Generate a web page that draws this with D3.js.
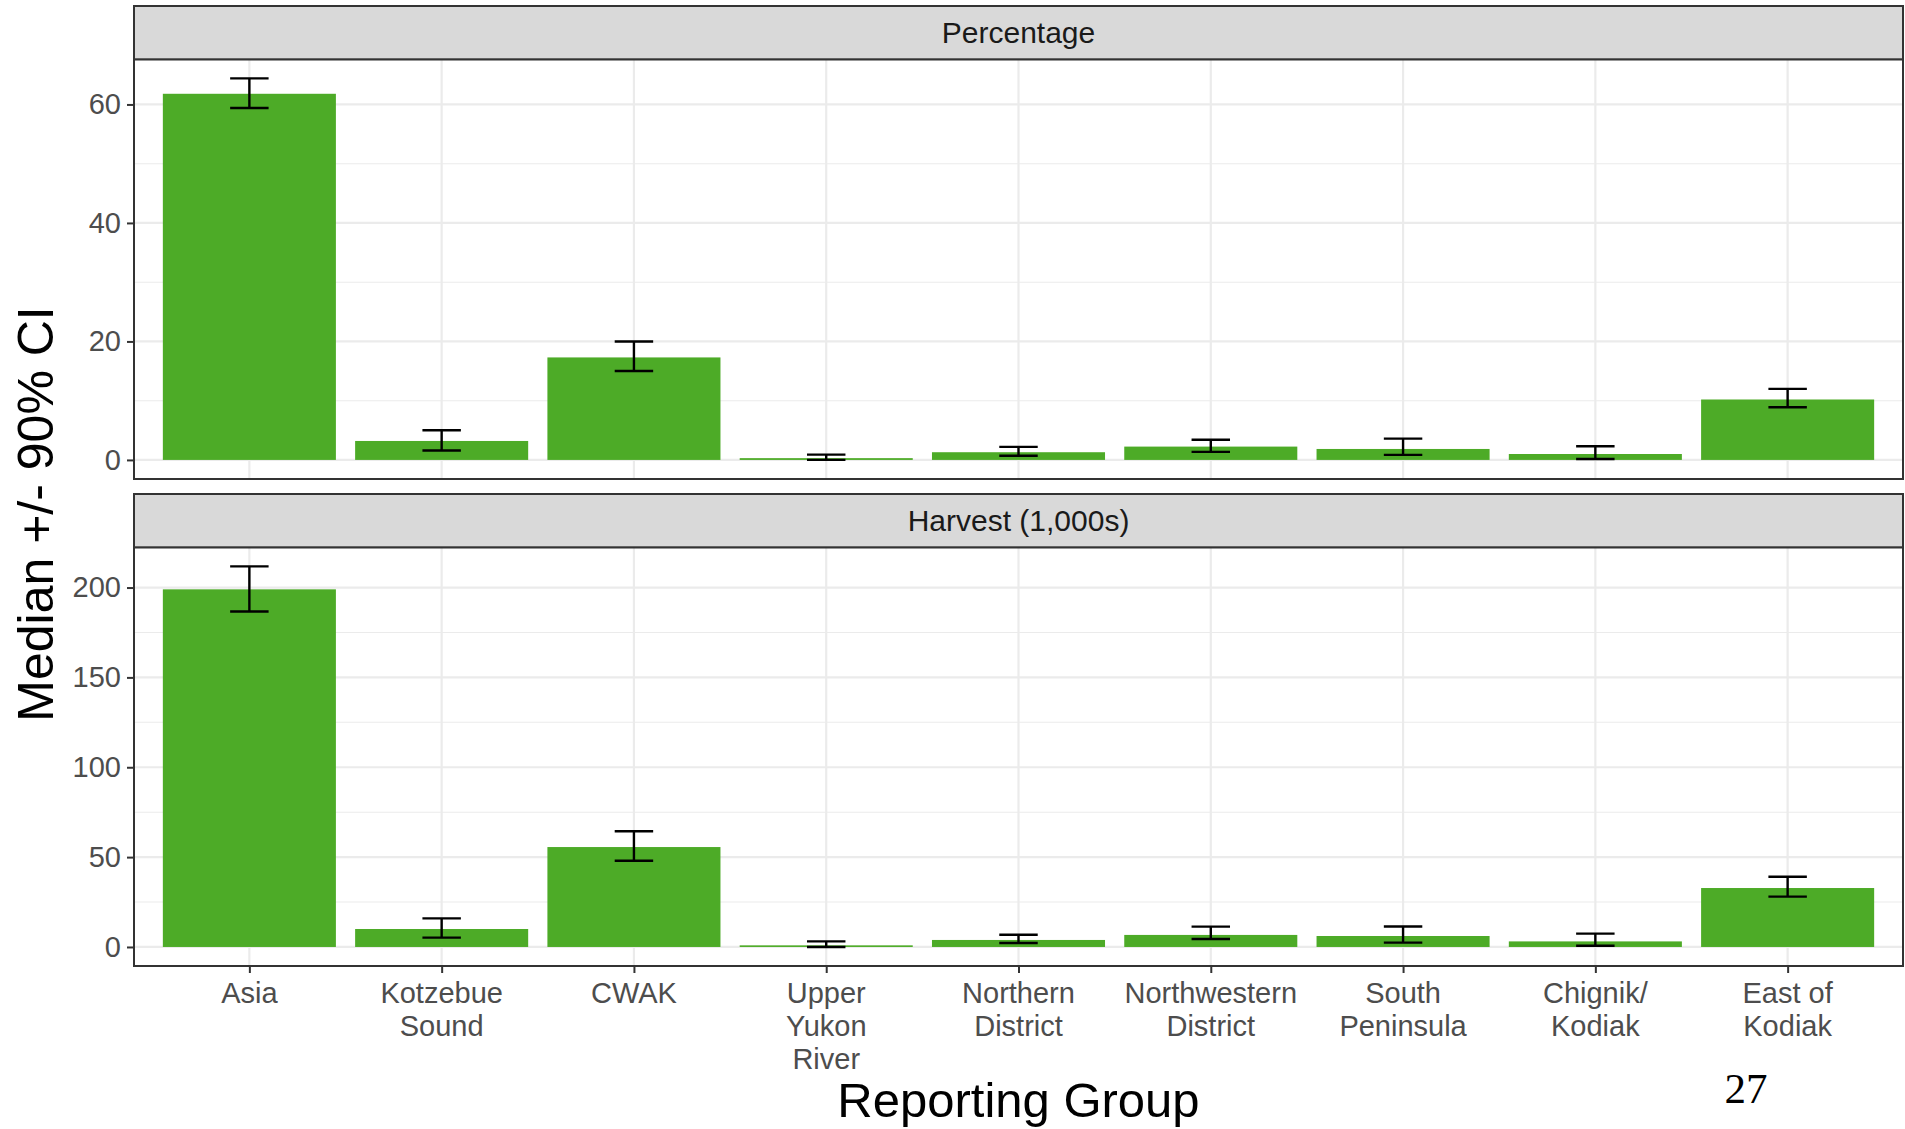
<!DOCTYPE html>
<html>
<head>
<meta charset="utf-8">
<script src="https://cdn.jsdelivr.net/npm/d3@7"></script>
<style>
  body { margin: 0; background: #fff; }
</style>
</head>
<body>
<div id="chart"></div>
<script>
// reporting groups (x categories), line breaks as in the original labels
const groups = ['Asia', 'Kotzebue\nSound', 'CWAK', 'Upper\nYukon\nRiver', 'Northern\nDistrict',
  'Northwestern\nDistrict', 'South\nPeninsula', 'Chignik/\nKodiak', 'East of\nKodiak']

// Percentage panel
const pctMedian = [61.8, 3.2, 17.3, 0.3, 1.3, 2.25, 1.85, 1.0, 10.2]
const pctLow = [59.4, 1.6, 15.0, 0.0, 0.7, 1.35, 0.85, 0.15, 8.9]
const pctHigh = [64.4, 5.0, 20.0, 0.9, 2.2, 3.4, 3.6, 2.3, 12.0]
const pctTicks = [0, 20, 40, 60]
const pctMinor = [10, 30, 50]

// Harvest (1,000s) panel
const harvMedian = [199, 10.0, 55.6, 0.9, 3.9, 6.7, 6.1, 3.1, 32.8]
const harvLow = [186.7, 5.2, 48.0, 0.0, 2.2, 4.4, 2.4, 0.7, 28.0]
const harvHigh = [211.8, 15.9, 64.4, 3.1, 6.8, 11.3, 11.4, 7.4, 39.1]
const harvTicks = [0, 50, 100, 150, 200]
const harvMinor = [25, 75, 125, 175]

const width = 1905
const height = 1129
const panelLeft = 134
const panelRight = 1903
const stripH = 53.3
const sans = "'Liberation Sans', Arial, sans-serif"

const svg = d3
  .select('#chart')
  .append('svg')
  .attr('width', width)
  .attr('height', height)
  .style('font-family', sans)

svg.append('rect').attr('width', width).attr('height', height).attr('fill', '#fff')

const xPositionScale = d3
  .scalePoint()
  .domain(groups)
  .range([panelLeft, panelRight])
  .padding(0.6)

const barWidth = xPositionScale.step() * 0.9
const capWidth = xPositionScale.step() * 0.2

const panels = [
  { title: 'Percentage', top: 6, bottom: 479, median: pctMedian, low: pctLow, high: pctHigh, ticks: pctTicks, minor: pctMinor },
  { title: 'Harvest (1,000s)', top: 494, bottom: 966, median: harvMedian, low: harvLow, high: harvHigh, ticks: harvTicks, minor: harvMinor }
]

panels.forEach(function(p) {
  const plotTop = p.top + stripH
  // ggplot style 5% expansion of the data range
  const lo = Math.min(0, d3.min(p.low))
  const hi = d3.max(p.high)
  const pad = (hi - lo) * 0.05
  const y = d3.scaleLinear().domain([lo - pad, hi + pad]).range([p.bottom, plotTop])

  const g = svg.append('g')

  // minor grid
  g.selectAll('.minor')
    .data(p.minor)
    .enter()
    .append('line')
    .attr('x1', panelLeft).attr('x2', panelRight)
    .attr('y1', d => y(d)).attr('y2', d => y(d))
    .attr('stroke', '#ebebeb')
    .attr('stroke-width', 1.1)

  // major grid
  g.selectAll('.major')
    .data(p.ticks)
    .enter()
    .append('line')
    .attr('x1', panelLeft).attr('x2', panelRight)
    .attr('y1', d => y(d)).attr('y2', d => y(d))
    .attr('stroke', '#ebebeb')
    .attr('stroke-width', 2.2)

  g.selectAll('.vgrid')
    .data(groups)
    .enter()
    .append('line')
    .attr('x1', d => xPositionScale(d)).attr('x2', d => xPositionScale(d))
    .attr('y1', plotTop).attr('y2', p.bottom)
    .attr('stroke', '#ebebeb')
    .attr('stroke-width', 2.2)

  // bars
  g.selectAll('.bar')
    .data(groups)
    .enter()
    .append('rect')
    .attr('x', d => xPositionScale(d) - barWidth / 2)
    .attr('width', barWidth)
    .attr('y', (d, i) => y(p.median[i]))
    .attr('height', (d, i) => y(0) - y(p.median[i]))
    .attr('fill', '#4dab27')

  // error bars
  const eb = g.selectAll('.err')
    .data(groups)
    .enter()
    .append('g')
    .attr('stroke', '#000')
    .attr('stroke-width', 2.4)
  eb.append('line')
    .attr('x1', d => xPositionScale(d)).attr('x2', d => xPositionScale(d))
    .attr('y1', (d, i) => y(p.low[i])).attr('y2', (d, i) => y(p.high[i]))
  eb.append('line')
    .attr('x1', d => xPositionScale(d) - capWidth / 2).attr('x2', d => xPositionScale(d) + capWidth / 2)
    .attr('y1', (d, i) => y(p.low[i])).attr('y2', (d, i) => y(p.low[i]))
  eb.append('line')
    .attr('x1', d => xPositionScale(d) - capWidth / 2).attr('x2', d => xPositionScale(d) + capWidth / 2)
    .attr('y1', (d, i) => y(p.high[i])).attr('y2', (d, i) => y(p.high[i]))

  // panel border
  g.append('rect')
    .attr('x', panelLeft).attr('y', plotTop)
    .attr('width', panelRight - panelLeft).attr('height', p.bottom - plotTop)
    .attr('fill', 'none')
    .attr('stroke', '#333')
    .attr('stroke-width', 2)

  // strip
  g.append('rect')
    .attr('x', panelLeft).attr('y', p.top)
    .attr('width', panelRight - panelLeft).attr('height', stripH)
    .attr('fill', '#d9d9d9')
    .attr('stroke', '#333')
    .attr('stroke-width', 2)
  g.append('text')
    .attr('x', (panelLeft + panelRight) / 2)
    .attr('y', p.top + stripH / 2 + 10.5)
    .attr('text-anchor', 'middle')
    .attr('font-size', 30)
    .attr('fill', '#1a1a1a')
    .text(p.title)

  // y axis
  const yAxis = d3.axisLeft(y).tickValues(p.ticks).tickSize(7).tickPadding(6)
  const ax = g.append('g')
    .attr('transform', 'translate(' + panelLeft + ',0)')
    .call(yAxis)
  ax.select('.domain').remove()
  ax.selectAll('.tick line').attr('stroke', '#333').attr('stroke-width', 2)
  ax.selectAll('.tick text')
    .attr('font-size', 29)
    .attr('font-family', sans)
    .attr('fill', '#4d4d4d')
})

// x axis on bottom panel
const xAxis = d3.axisBottom(xPositionScale).tickSize(7).tickFormat('')
const xg = svg.append('g')
  .attr('transform', 'translate(0,966)')
  .call(xAxis)
xg.select('.domain').remove()
xg.selectAll('.tick line').attr('stroke', '#333').attr('stroke-width', 2)

svg.selectAll('.xlab')
  .data(groups)
  .enter()
  .append('text')
  .attr('x', d => xPositionScale(d))
  .attr('y', 1002.5)
  .attr('text-anchor', 'middle')
  .attr('font-size', 29)
  .attr('fill', '#4d4d4d')
  .each(function(d) {
    const lines = d.split('\n')
    d3.select(this)
      .selectAll('tspan')
      .data(lines)
      .enter()
      .append('tspan')
      .attr('x', xPositionScale(d))
      .attr('dy', (l, i) => (i === 0 ? 0 : 33.3))
      .text(l => l)
  })

// axis titles
svg.append('text')
  .attr('x', (panelLeft + panelRight) / 2)
  .attr('y', 1117)
  .attr('text-anchor', 'middle')
  .attr('font-size', 49)
  .attr('fill', '#000')
  .text('Reporting Group')

svg.append('text')
  .attr('transform', 'translate(53,514) rotate(-90)')
  .attr('text-anchor', 'middle')
  .attr('font-size', 50)
  .attr('fill', '#000')
  .text('Median +/- 90% CI')

// slide page number
svg.append('text')
  .attr('x', 1746)
  .attr('y', 1103)
  .attr('text-anchor', 'middle')
  .attr('font-size', 43)
  .style('font-family', "'Liberation Serif', 'Times New Roman', serif")
  .attr('fill', '#000')
  .text('27')
</script>
</body>
</html>
